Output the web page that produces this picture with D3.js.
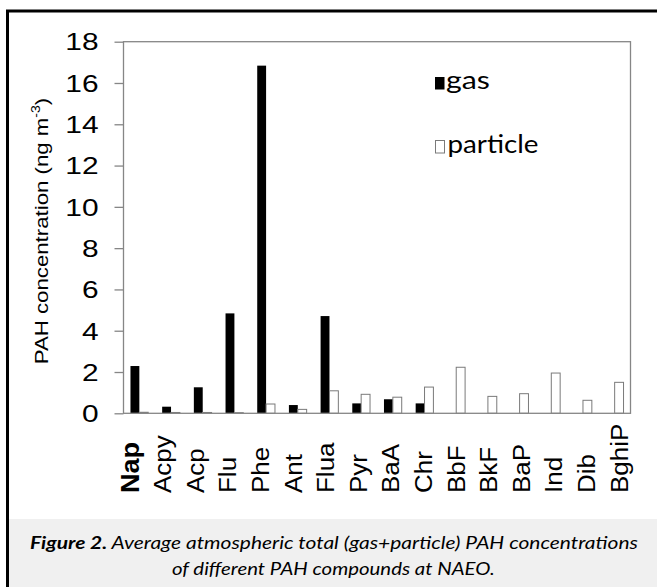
<!DOCTYPE html>
<html>
<head>
<meta charset="utf-8">
<script src="https://cdn.jsdelivr.net/npm/d3@7"></script>
<style>
  html, body { margin: 0; padding: 0; background: #fff; }
  svg { display: block; }
</style>
</head>
<body>
<svg id="chart" width="657" height="587"></svg>
<script>
// ---- data ----
const categories = ["Nap","Acpy","Acp","Flu","Phe","Ant","Flua","Pyr","BaA","Chr","BbF","BkF","BaP","Ind","Dib","BghiP"];
const gasValues      = [2.29, 0.32, 1.26, 4.84, 16.84, 0.40, 4.71, 0.48, 0.68, 0.48, 0, 0, 0, 0, 0, 0];
const particleValues = [0.05, 0.04, 0.04, 0.03, 0.45, 0.19, 1.09, 0.92, 0.78, 1.27, 2.23, 0.82, 0.95, 1.95, 0.63, 1.50];
const seriesNames = ["gas", "particle"];
const yTicks = [0, 2, 4, 6, 8, 10, 12, 14, 16, 18];
const yTitle = "PAH concentration (ng m";
const captionBold = "Figure 2.";
const captionLine1 = " Average atmospheric total (gas+particle) PAH concentrations";
const captionLine2 = "of different PAH compounds at NAEO.";

const svg = d3.select("#chart");
const W = 657, H = 587;
const plot = { left: 123.5, right: 630.5, top: 41.7, bottom: 413.3 };
const axisColor = "#868686";

// caption band
svg.append("rect").attr("x", 8.5).attr("y", 519).attr("width", W - 8.5).attr("height", H - 519).attr("fill", "#f0f0f0");
// outer frame (left + top)
svg.append("line").attr("x1", 7.5).attr("x2", 7.5).attr("y1", 10).attr("y2", H).attr("stroke", "#000").attr("stroke-width", 3);
svg.append("line").attr("x1", 6).attr("x2", W).attr("y1", 11).attr("y2", 11).attr("stroke", "#000").attr("stroke-width", 3);

// scales
const x0 = d3.scaleBand().domain(categories).range([plot.left, plot.right]);
const barW = x0.bandwidth() * 0.28;
const x1 = d3.scaleBand().domain(seriesNames)
  .range([x0.bandwidth() / 2 - barW, x0.bandwidth() / 2 + barW]);
const y = d3.scaleLinear().domain([0, 18]).range([plot.bottom, plot.top]);

// bars
const rows = categories.map((c, i) => ({ c, gas: gasValues[i], particle: particleValues[i] }));
const g = svg.append("g");
rows.forEach(r => {
  if (r.gas > 0) {
    g.append("rect")
      .attr("x", x0(r.c) + x1("gas")).attr("width", x1.bandwidth())
      .attr("y", y(r.gas)).attr("height", y(0) - y(r.gas))
      .attr("fill", "#000");
  }
  if (r.particle > 0) {
    g.append("rect")
      .attr("x", x0(r.c) + x1("particle")).attr("width", x1.bandwidth())
      .attr("y", y(r.particle)).attr("height", y(0) - y(r.particle))
      .attr("fill", "#fff").attr("stroke", "#7a7a7a").attr("stroke-width", 1);
  }
});

// plot box
svg.append("rect")
  .attr("x", plot.left).attr("y", plot.top)
  .attr("width", plot.right - plot.left).attr("height", plot.bottom - plot.top)
  .attr("fill", "none").attr("stroke", axisColor).attr("stroke-width", 1.3);

// y axis
const tickSx = 1.3;
const yAxis = svg.append("g").attr("transform", `translate(${plot.left},0)`)
  .call(d3.axisLeft(y).tickValues(yTicks).tickSize(9).tickPadding(16));
yAxis.select(".domain").remove();
yAxis.selectAll(".tick line").attr("stroke", axisColor).attr("stroke-width", 1.3);
yAxis.selectAll(".tick text")
  .attr("font-family", "'Liberation Sans', Arial, sans-serif")
  .attr("font-size", 23).attr("fill", "#000")
  .attr("x", -25 / tickSx).attr("dy", "0.36em")
  .attr("transform", `scale(${tickSx},1)`);

// y title
const yt = svg.append("text")
  .attr("transform", "translate(48,231) rotate(-90) scale(1.17,1)")
  .attr("text-anchor", "middle")
  .attr("font-family", "'Liberation Sans', Arial, sans-serif")
  .attr("font-size", 19).attr("fill", "#000");
yt.append("tspan").text(yTitle);
yt.append("tspan").attr("font-size", 12).attr("dy", -8).text("-3");
yt.append("tspan").attr("dy", 8).text(")");

// x labels (positioned with a point scale)
const xl = d3.scalePoint().domain(categories).range([138, 627]);
const xAxis = svg.append("g").attr("transform", "translate(0,493)")
  .call(d3.axisBottom(xl).tickSize(0).tickPadding(0));
xAxis.select(".domain").remove();
xAxis.selectAll(".tick text")
  .attr("font-family", "'Liberation Sans', Arial, sans-serif")
  .attr("font-size", d => d === "Nap" ? 25 : 23)
  .attr("font-weight", d => d === "Nap" ? "bold" : "normal")
  .attr("fill", "#000")
  .attr("text-anchor", "start")
  .attr("x", 0).attr("y", 0).attr("dy", 0)
  .attr("transform", d => d === "Nap" ? "rotate(-90) scale(1.08,1)" : "rotate(-90) scale(1.13,1)");

// legend
const legendFont = "Lato, 'Open Sans', sans-serif";
svg.append("rect").attr("x", 435).attr("y", 77).attr("width", 9.5).attr("height", 12.5).attr("fill", "#000");
svg.append("rect").attr("x", 435.5).attr("y", 140.5).attr("width", 9).attr("height", 12.5)
  .attr("fill", "#fff").attr("stroke", "#7a7a7a").attr("stroke-width", 1);

function fitText(sel, x, yb, target, anchorMid) {
  const node = sel.node();
  const w = node.getComputedTextLength();
  const s = target / w;
  sel.attr("x", 0).attr("y", 0)
     .attr("transform", `translate(${x},${yb}) scale(${s},1)`);
}
const lg1 = svg.append("text").attr("font-family", legendFont).attr("font-size", 25).attr("fill", "#000").text("gas");
fitText(lg1, 446, 89.3, 44);
const lg2 = svg.append("text").attr("font-family", legendFont).attr("font-size", 25).attr("fill", "#000").text("particle");
fitText(lg2, 447.5, 153.3, 91);

// caption
const capFont = "Lato, 'Open Sans', sans-serif";
const c1 = svg.append("text").attr("font-family", capFont).attr("font-size", 17).attr("font-style", "italic")
  .attr("text-anchor", "middle").attr("fill", "#000");
c1.append("tspan").attr("font-weight", "bold").text(captionBold);
c1.append("tspan").text(captionLine1);
fitText(c1, 334, 549, 608);
const c2 = svg.append("text").attr("font-family", capFont).attr("font-size", 17).attr("font-style", "italic")
  .attr("text-anchor", "middle").attr("fill", "#000").text(captionLine2);
fitText(c2, 333.3, 575, 323);
</script>
</body>
</html>
